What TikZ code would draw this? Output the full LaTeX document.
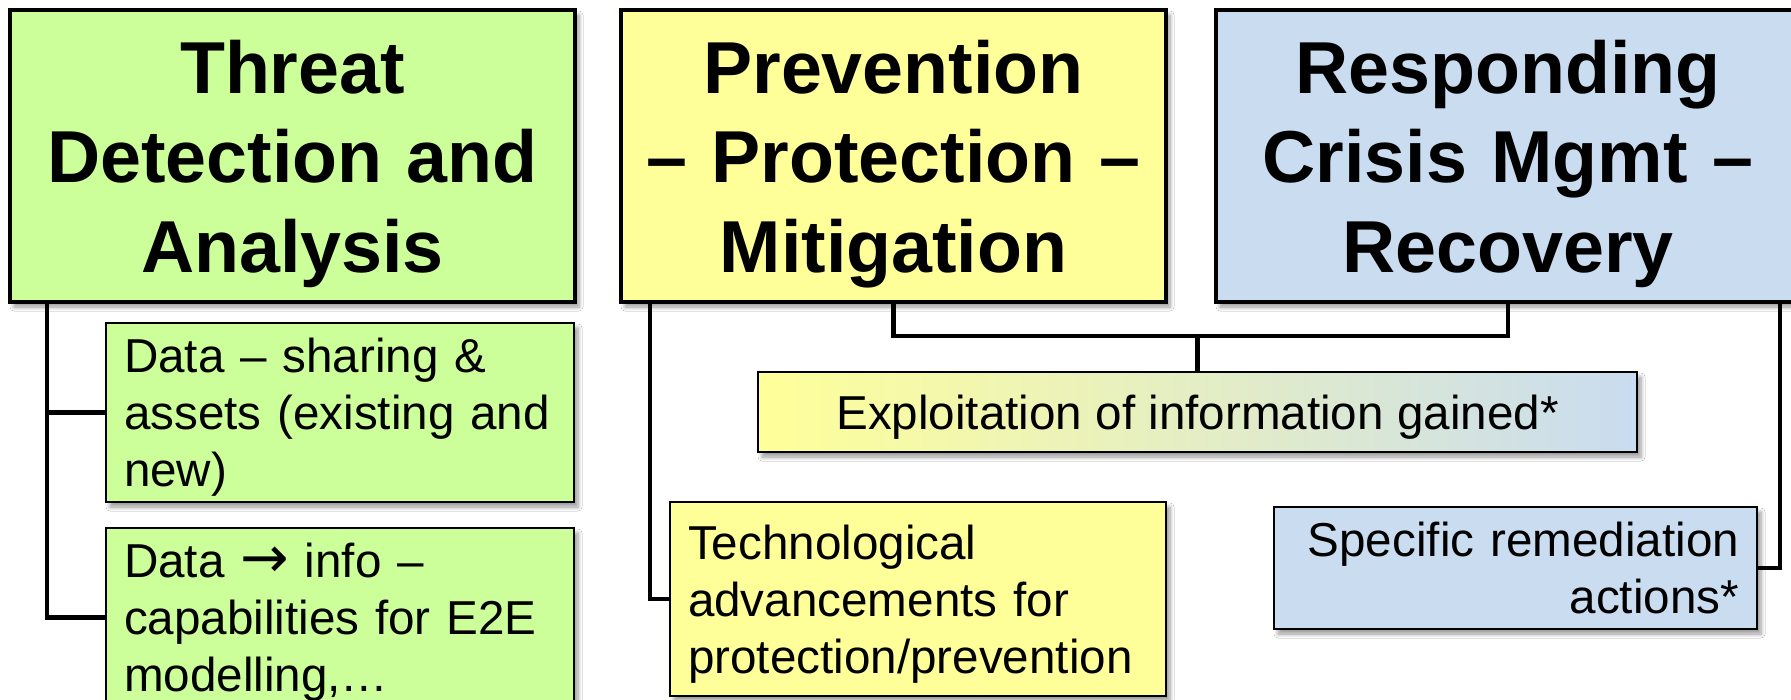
\documentclass[tikz,border=0pt]{standalone}
\usepackage{fontspec}
\setmainfont{Liberation Sans}
\newfontfamily\arrowfont{DejaVu Sans}
\usetikzlibrary{shadows.blur}

\definecolor{boxgreen}{HTML}{CCFF99}
\definecolor{boxyellow}{HTML}{FFFF99}
\definecolor{boxblue}{HTML}{C9DCF0}

\tikzset{
  base/.style={draw=black, rectangle, outer sep=0pt, anchor=north west,
    blur shadow={shadow xshift=2pt, shadow yshift=-2.5pt,
                 shadow blur radius=2pt, shadow blur steps=6, shadow opacity=40}},
  headbox/.style={base, line width=2pt, inner sep=0pt, align=center,
    font=\bfseries\fontsize{36.8}{44.8}\selectfont},
  itembox/.style={base, line width=1.2pt, inner xsep=9pt, inner ysep=0pt,
    font=\fontsize{23.8}{28.5}\selectfont},
  conn/.style={line width=2.3pt, line join=miter},
}

\begin{document}
\begin{tikzpicture}[x=0.5pt, y=-0.5pt]
  \fill[white] (0,0) rectangle (1791,700);
  \useasboundingbox (0,0) rectangle (1791,700);

  % three main areas
  \node[headbox, fill=boxgreen, minimum width=282.5pt, minimum height=146pt,
        text width=272pt] (h1) at (10,10)
        {Threat\\Detection~and\\\smash{Analysis}};
  \node[headbox, fill=boxyellow, minimum width=272.5pt, minimum height=146pt,
        text width=266pt] (h2) at (621,10)
        {Prevention\\–~Protection~–\\\smash{Mitigation}};
  \node[headbox, fill=boxblue, minimum width=292pt, minimum height=146pt,
        text width=284pt] (h3) at (1216,10)
        {Responding\\Crisis~Mgmt~–\\\smash{Recovery}};

  % sub-items
  \node[itembox, fill=boxgreen, minimum width=234pt, minimum height=89.5pt,
        text width=216pt, align=left] (c1) at (106,323)
        {Data~–~sharing~\&\\assets~(existing~and\\\smash{new)}};
  \node[itembox, fill=boxgreen, minimum width=234pt, minimum height=89.5pt,
        text width=216pt, align=left] (c2) at (106,528)
        {Data~{\arrowfont\fontsize{29}{28.5}\selectfont →}~info~–\\capabilities~for~E2E\\\smash{modelling,…}};
  \node[itembox, fill=boxyellow, minimum width=248pt, minimum height=97pt,
        text width=230pt, align=left] (tech) at (670,502)
        {Technological\\advancements~for\\\smash{protection/prevention}};
  \node[itembox, left color=boxyellow, right color=boxblue,
        minimum width=439.5pt, minimum height=40pt, text depth=0pt] (expl) at (758,372)
        {Exploitation of information gained*};
  \node[itembox, fill=boxblue, minimum width=241.5pt, minimum height=61pt,
        text width=223.5pt, align=right] (spec) at (1274,507)
        {Specific~remediation\\\smash{actions*}};

  % connector branch points
  \coordinate (t1) at ([xshift=18.5pt]h1.south west);
  \coordinate (t2) at ([xshift=14.5pt]h2.south west);
  \coordinate (t3) at ([xshift=282pt]h3.south west);
  \coordinate (bar) at ([yshift=-17pt]h2.south);

  % connectors
  \draw[conn] (t1) |- (c2.west);
  \draw[conn] (t1 |- c1.west) -- (c1.west);
  \draw[conn] (t2) |- (tech.west);
  \draw[conn] (h2.south) -- (bar) -| (h3.south);
  \draw[conn] (expl.north) -- (expl.north |- bar);
  \draw[conn] (t3) |- (spec.east);
\end{tikzpicture}
\end{document}
